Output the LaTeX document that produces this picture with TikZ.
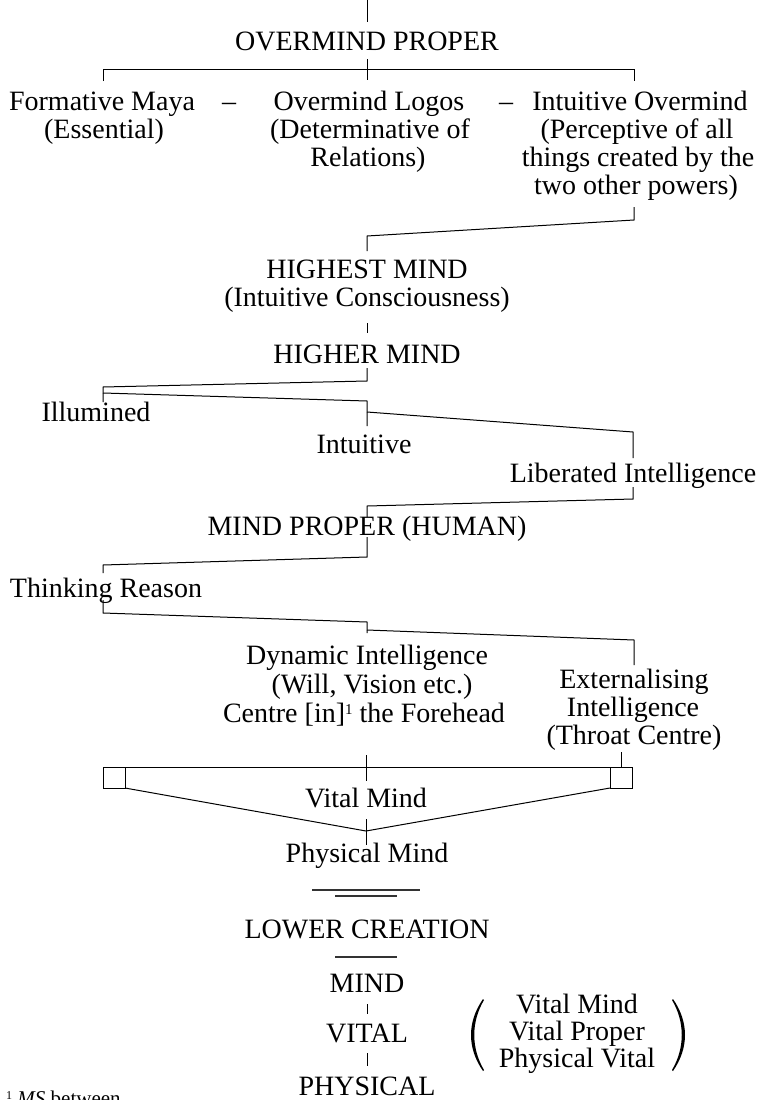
\documentclass[tikz,border=0pt]{standalone}
\usepackage{fontspec}
\setmainfont{Liberation Serif}
\newcommand{\supone}{\raisebox{8pt}{\fontsize{15}{15}\selectfont 1}}
\begin{document}
\begin{tikzpicture}[x=1pt,y=-1pt,
  lbl/.style={inner sep=0pt, anchor=base, font=\fontsize{28}{28.5}\selectfont},
  ln/.style={line width=1pt, line cap=butt},
  rule/.style={line width=1.3pt, draw=black!80}]
\useasboundingbox (0,0) rectangle (762,1100);

% ---------- texts ----------
\node[lbl] (op)   at (367,50)  {OVERMIND PROPER};
\node[lbl] (fm1)  at (102,110) {Formative Maya};
\node[lbl] (fm2)  at (104,138) {(Essential)};
\node[lbl] (da)   at (229,110) {–};
\node[lbl] (ol1)  at (369,110) {Overmind Logos};
\node[lbl] (ol2)  at (370,138) {(Determinative of};
\node[lbl] (ol3)  at (368,166) {Relations)};
\node[lbl] (db)   at (506,110) {–};
\node[lbl] (io1)  at (640,110) {Intuitive Overmind};
\node[lbl] (io2)  at (637,138) {(Perceptive of all};
\node[lbl] (io3)  at (638,166) {things created by the};
\node[lbl] (io4)  at (636,194) {two other powers)};
\node[lbl] (hm1)  at (367,278) {HIGHEST MIND};
\node[lbl] (hm2)  at (367,306) {(Intuitive Consciousness)};
\node[lbl] (hr)   at (367,363) {HIGHER MIND};
\node[lbl] (il)   at (96,421)  {Illumined};
\node[lbl] (it)   at (364,453) {Intuitive};
\node[lbl] (li)   at (633,482) {Liberated Intelligence};
\node[lbl] (mp)   at (367,535) {MIND PROPER (HUMAN)};
\node[lbl] (tr)   at (106,597) {Thinking Reason};
\node[lbl] (dy1)  at (367,664) {Dynamic Intelligence};
\node[lbl] (dy2)  at (372,693) {(Will, Vision etc.)};
\node[lbl] (dy3)  at (364,722) {Centre [in]\supone\ the Forehead};
\node[lbl] (ex1)  at (634,688) {Externalising};
\node[lbl] (ex2)  at (633,716) {Intelligence};
\node[lbl] (ex3)  at (634,744) {(Throat Centre)};
\node[lbl] (vm)   at (366,807) {Vital Mind};
\node[lbl] (pm)   at (367,862) {Physical Mind};
\node[lbl] (lc)   at (367,938) {LOWER CREATION};
\node[lbl] (mi)   at (367,992) {MIND};
\node[lbl] (vi)   at (367,1042) {VITAL};
\node[lbl] (ph)   at (367,1095) {PHYSICAL};
\node[lbl] (rv1)  at (577,1013) {Vital Mind};
\node[lbl] (rv2)  at (577,1040) {Vital Proper};
\node[lbl] (rv3)  at (577,1067) {Physical Vital};
\node[inner sep=0pt, anchor=base west, font=\fontsize{21}{23}\selectfont] (fn) at (6,1105)
  {\raisebox{6pt}{\fontsize{12}{12}\selectfont 1} \textit{MS} between};

% ---------- connectors ----------
\coordinate (t0) at (367,0);
\draw[ln] (t0) -- (367,22);

% overmind bracket
\coordinate (bL) at (103,69);
\coordinate (bR) at (634,69);
\draw[ln] (103,81) -- (bL) -- (bR) -- (634,81);
\draw[ln] (367,59) -- (367,80);

% intuitive overmind -> highest mind
\coordinate (c1) at (634,207);
\draw[ln] (c1) -- (634,220) -- (367,236) -- (367,251);

\draw[ln] (367,323) -- (367,333);

% higher mind -> illumined
\draw[ln] (367,368) -- (367,381) -- (103,387) -- (103,402);
% illumined -> intuitive
\draw[ln] (103,393) -- (367,401) -- (367,426);
% intuitive -> liberated
\draw[ln] (367,412) -- (633,432) -- (633,458);

% liberated -> mind proper
\draw[ln] (633,487) -- (633,499) -- (367,506) -- (367,517);
% mind proper -> thinking reason
\draw[ln] (367,537) -- (367,557) -- (103,565) -- (103,573);
% thinking reason -> dynamic
\draw[ln] (103,600) -- (103,613) -- (367,622) -- (367,633);
\draw[ln] (367,630) -- (634,640) -- (634,665);

% boxes
\draw[ln] (103,767) rectangle (125,788);
\draw[ln] (610,767) rectangle (632,788);
\draw[ln] (125,767) -- (610,767);
\draw[ln] (621,752) -- (621,767);
\draw[ln] (366,755) -- (366,781);
\coordinate (vv) at (366,831);
\draw[ln] (125,788) -- (vv) -- (610,788);
\draw[ln] (366,819) -- (366,845);

% rules
\draw[rule] (312,890) -- (420,890);
\draw[rule] (335,896) -- (397,896);
\draw[rule] (335,957) -- (397,957);

% lower ticks
\draw[ln] (367,1004) -- (367,1014);
\draw[ln] (367,1053) -- (367,1066);

% parentheses
\fill (483,999) .. controls (467,1022) and (467,1048) .. (483,1071)
  -- (484,1070) .. controls (471,1048) and (471,1022) .. (484,1000) -- cycle;
\fill (673,999) .. controls (689,1022) and (689,1048) .. (673,1071)
  -- (672,1070) .. controls (685,1048) and (685,1022) .. (672,1000) -- cycle;
\end{tikzpicture}
\end{document}
